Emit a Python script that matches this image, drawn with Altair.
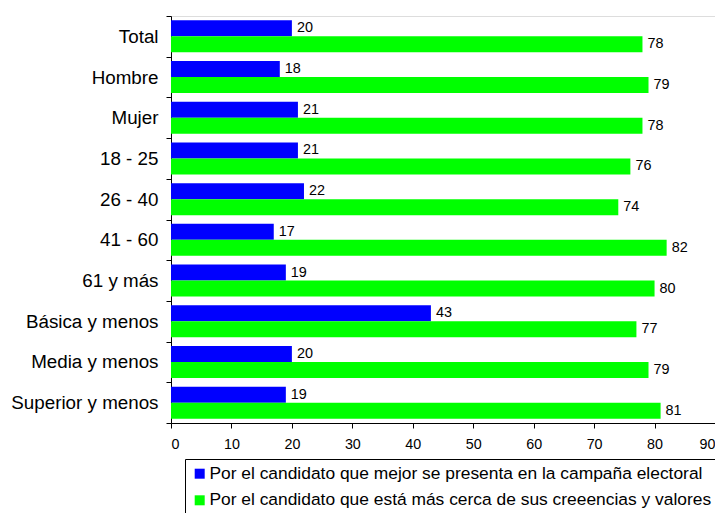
import altair as alt
import pandas as pd

categories = ["Total", "Hombre", "Mujer", "18 - 25", "26 - 40", "41 - 60",
              "61 y más", "Básica y menos", "Media y menos", "Superior y menos"]
series = ["Por el candidato que mejor se presenta en la campaña electoral",
          "Por el candidato que está más cerca de sus creeencias y valores"]
values_a = [20, 18, 21, 21, 22, 17, 19, 43, 20, 19]
values_b = [78, 79, 78, 76, 74, 82, 80, 77, 79, 81]
x_ticks = [0, 10, 20, 30, 40, 50, 60, 70, 80, 90]
colors = ["#0000FF", "#00FF00"]

rows = []
for c, a, b in zip(categories, values_a, values_b):
    rows.append({"cat": c, "serie": series[0], "val": a})
    rows.append({"cat": c, "serie": series[1], "val": b})
df = pd.DataFrame(rows)

FONT = "Liberation Sans"

y_enc = alt.Y("cat:N", sort=categories,
              scale=alt.Scale(paddingInner=0, paddingOuter=0),
              axis=alt.Axis(title=None, tickBand="extent", labelFontSize=18.8,
                            labelFont=FONT, labelColor="#000000", labelPadding=8,
                            tickSize=5, tickColor="#000000", domainColor="#000000",
                            labelLimit=300))
x_enc = alt.X("val:Q", scale=alt.Scale(domain=[0, 90], nice=False),
              axis=alt.Axis(title=None, values=x_ticks, grid=False, labelFontSize=14.3,
                            labelFont=FONT, labelColor="#000000", tickSize=5,
                            tickColor="#000000", domainColor="#000000",
                            labelPadding=9))
yoff = alt.YOffset("serie:N", sort=series,
                   scale=alt.Scale(paddingInner=0, paddingOuter=0.27))

base = alt.Chart(df).encode(y=y_enc, yOffset=yoff)

bars = base.mark_bar(strokeWidth=0).encode(
    x=x_enc,
    color=alt.Color("serie:N", sort=series,
                    scale=alt.Scale(domain=series, range=colors),
                    legend=alt.Legend(title=None, orient="none", legendX=14, legendY=443,
                                      direction="vertical", strokeColor="#000000",
                                      padding=6, symbolType="square", symbolSize=100,
                                      symbolStrokeWidth=0, labelFontSize=17.4,
                                      labelFont=FONT, labelColor="#000000",
                                      rowPadding=7.6, labelLimit=700, labelOffset=1,
                                      fillColor="#FFFFFF"))
)

labels = base.mark_text(align="left", baseline="middle", dx=5, fontSize=14.4,
                        font=FONT, color="#000000").encode(
    x="val:Q", text="val:Q")

chart = alt.layer(bars, labels).properties(
    width=544, height=407,
    autosize=alt.AutoSizeParams(type="none"),
    padding={"left": 163, "top": 8, "right": 0, "bottom": 90},
).configure_view(stroke="#000000", strokeWidth=1).configure(background="#FFFFFF")

chart.save("out.html", embed_options={"renderer": "svg", "actions": False})
